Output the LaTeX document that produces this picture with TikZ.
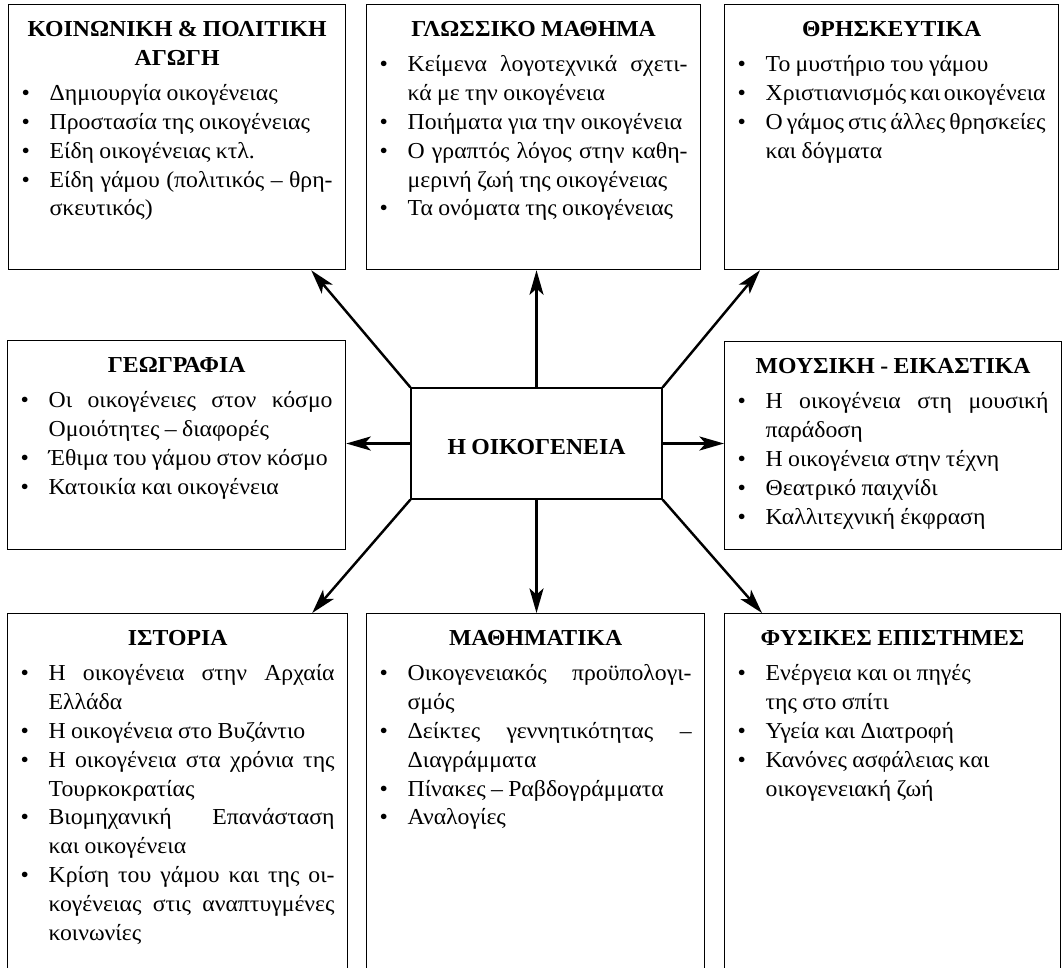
\documentclass[tikz,border=0pt]{standalone}
\usepackage{fontspec}
\setmainfont{Liberation Serif}[FakeStretch=1.04,WordSpace={0.9,1.2,2.4}]
\usepackage{enumitem}
\usetikzlibrary{arrows.meta}
\usetikzlibrary{calc}
\hyphenpenalty=10000
\tikzstyle{every node}=[font=\fontsize{13}{16.4}\selectfont]
\tikzstyle{subject}=[draw,line width=0.7pt,anchor=north west,inner xsep=0.26cm,inner ysep=0.24cm]
\tikzstyle{link}=[line width=1.4pt,-{Stealth[length=14pt,width=8pt,inset=3.5pt]}]
% width, height, title, items
\newcommand{\topicbox}[4]{%
  \begin{minipage}[t][#2][t]{#1}
    {\centering\strut\textbf{#3}\par}
    \begin{itemize}[nosep,topsep=3.5pt,leftmargin=0.56cm,labelwidth=0.3cm,labelsep=0.26cm,align=left]
      #4
    \end{itemize}
  \end{minipage}}

\begin{document}
\begin{tikzpicture}
  \path[use as bounding box] (0,0) rectangle (21.28,-19.34);
  \clip (0,0) rectangle (21.28,-19.34);
  % top row
  \node[subject] (koin) at (0.16,-0.08) {\topicbox{6.22cm}{4.82cm}{ΚΟΙΝΩΝΙΚΗ \& ΠΟΛΙΤΙΚΗ\\ΑΓΩΓΗ}{
    \item Δημιουργία οικογένειας
    \item Προστασία της οικογένειας
    \item Είδη οικογένειας κτλ.
    \item Είδη γάμου (πολιτικός – θρη-\linebreak σκευτικός)}};
  \node[subject] (glossa) at (7.32,-0.08) {\topicbox{6.16cm}{4.82cm}{ΓΛΩΣΣΙΚΟ ΜΑΘΗΜΑ}{
    \item Κείμενα λογοτεχνικά σχετι-\linebreak κά με την οικογένεια
    \item Ποιήματα για την οικογένεια
    \item Ο γραπτός λόγος στην καθη-\linebreak μερινή ζωή της οικογένειας
    \item Τα ονόματα της οικογένειας}};
  \node[subject] (thrisk) at (14.48,-0.08) {\topicbox{6.16cm}{4.82cm}{ΘΡΗΣΚΕΥΤΙΚΑ}{
    \item Το μυστήριο του γάμου
    \item Χριστιανισμός και οικογένεια
    \item Ο γάμος στις άλλες θρησκείες\linebreak και δόγματα}};
  % middle row
  \node[subject] (geo) at (0.14,-6.8) {\topicbox{6.24cm}{3.70cm}{ΓΕΩΓΡΑΦΙΑ}{
    \item Οι οικογένειες στον κόσμο\linebreak Ομοιότητες – διαφορές
    \item Έθιμα του γάμου στον κόσμο
    \item Κατοικία και οικογένεια}};
  \node[draw,line width=0.7pt,minimum width=5.02cm,minimum height=2.22cm,text height=0.46cm,font=\fontsize{13}{16.4}\selectfont\bfseries] (centre) at (10.73,-8.87) {Η ΟΙΚΟΓΕΝΕΙΑ};
  \node[subject] (mous) at (14.48,-6.82) {\topicbox{6.22cm}{3.68cm}{ΜΟΥΣΙΚΗ - ΕΙΚΑΣΤΙΚΑ}{
    \item Η οικογένεια στη μουσική\linebreak παράδοση
    \item Η οικογένεια στην τέχνη
    \item Θεατρικό παιχνίδι
    \item Καλλιτεχνική έκφραση}};
  % bottom row
  \node[subject] (istoria) at (0.14,-12.26) {\topicbox{6.28cm}{6.82cm}{ΙΣΤΟΡΙΑ}{
    \item Η οικογένεια στην Αρχαία\linebreak Ελλάδα
    \item Η οικογένεια στο Βυζάντιο
    \item Η οικογένεια στα χρόνια της\linebreak Τουρκοκρατίας
    \item Βιομηχανική Επανάσταση\linebreak και οικογένεια
    \item Κρίση του γάμου και της οι-\linebreak κογένειας στις αναπτυγμένες\linebreak κοινωνίες}};
  \node[subject] (math) at (7.32,-12.26) {\topicbox{6.24cm}{6.82cm}{ΜΑΘΗΜΑΤΙΚΑ}{
    \item Οικογενειακός προϋπολογι-\linebreak σμός
    \item Δείκτες γεννητικότητας –\linebreak Διαγράμματα
    \item Πίνακες – Ραβδογράμματα
    \item Αναλογίες}};
  \node[subject] (fysikes) at (14.48,-12.26) {\topicbox{6.20cm}{6.82cm}{ΦΥΣΙΚΕΣ ΕΠΙΣΤΗΜΕΣ}{
    \item Ενέργεια και οι πηγές\newline της στο σπίτι
    \item Υγεία και Διατροφή
    \item Κανόνες ασφάλειας και\newline οικογενειακή ζωή}};
  % arrows
  \draw[link] (centre.north west)--($(koin.south east)+(-0.7,0)$);
  \draw[link] (centre.north)--(centre.north |- glossa.south);
  \draw[link] (centre.north east)--($(thrisk.south west)+(0.72,0)$);
  \draw[link] (centre.west)--(centre.west -| geo.east);
  \draw[link] (centre.east)--(centre.east -| mous.west);
  \draw[link] (centre.south west)--($(istoria.north east)+(-0.72,0)$);
  \draw[link] (centre.south)--(centre.south |- math.north);
  \draw[link] (centre.south east)--($(fysikes.north west)+(0.76,0)$);
\end{tikzpicture}
\end{document}
